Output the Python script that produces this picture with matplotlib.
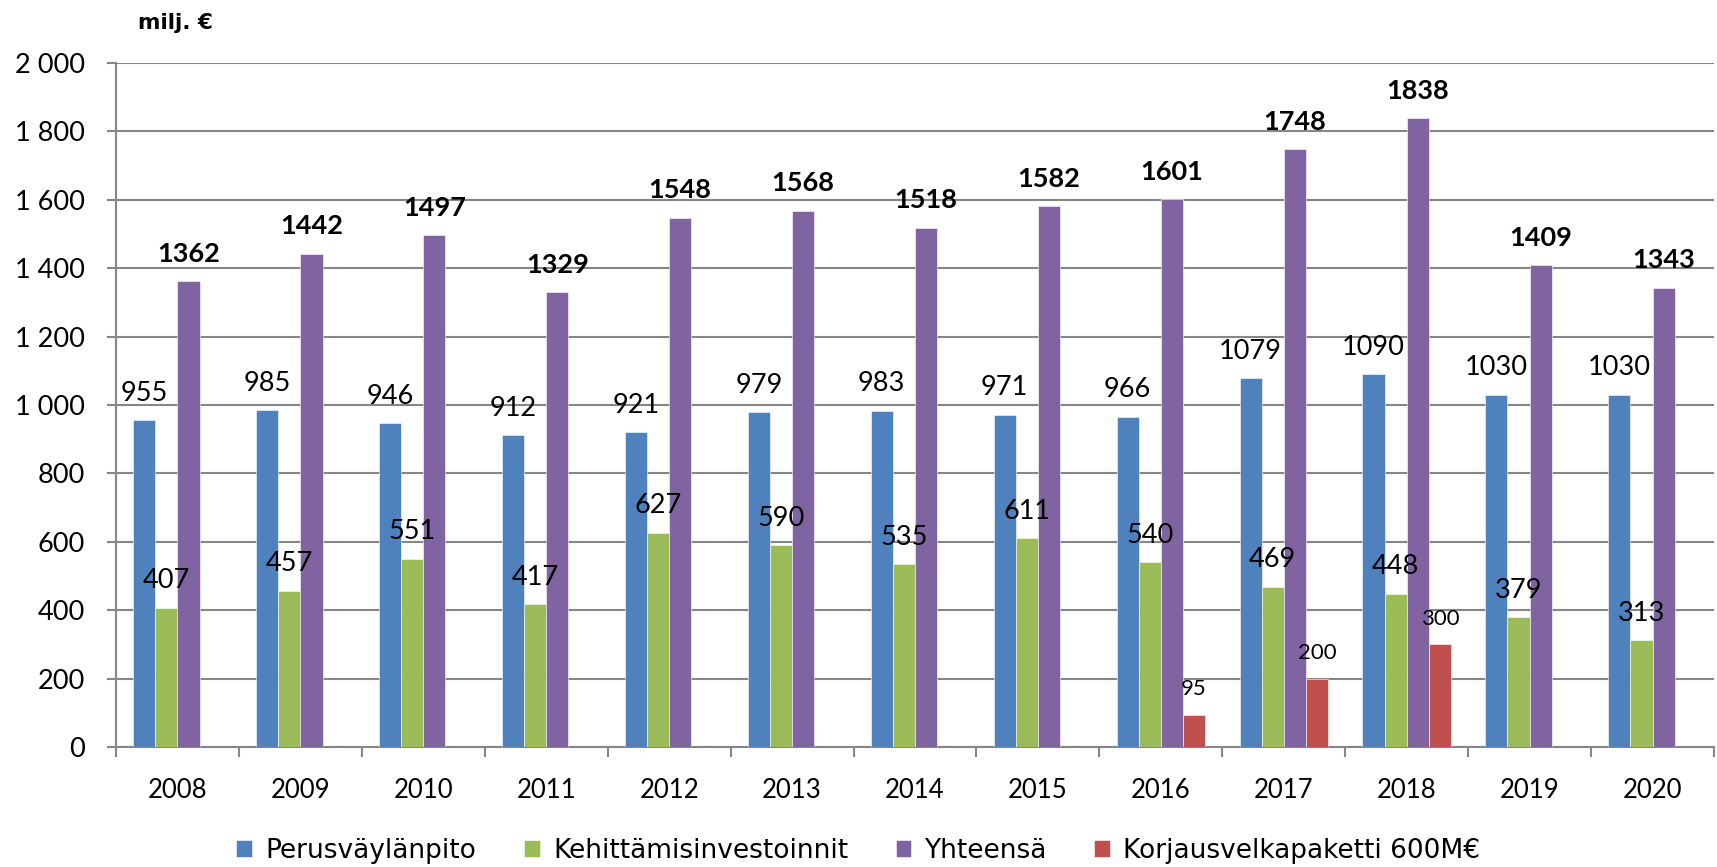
import matplotlib
matplotlib.use("Agg")
import matplotlib.pyplot as plt
import numpy as np
from matplotlib.ticker import FuncFormatter, MultipleLocator

# data
vuodet = ["2008", "2009", "2010", "2011", "2012", "2013", "2014",
          "2015", "2016", "2017", "2018", "2019", "2020"]
perus = [955, 985, 946, 912, 921, 979, 983, 971, 966, 1079, 1090, 1030, 1030]
kehitys = [407, 457, 551, 417, 627, 590, 535, 611, 540, 469, 448, 379, 313]
yhteensa = [1362, 1442, 1497, 1329, 1548, 1568, 1518, 1582, 1601, 1748, 1838, 1409, 1343]
korjaus = [None, None, None, None, None, None, None, None, 95, 200, 300, None, None]

sarjat = ["Perusväylänpito", "Kehittämisinvestoinnit", "Yhteensä",
          "Korjausvelkapaketti 600M€"]
varit = ["#4F81BD", "#9BBB59", "#8064A2", "#C0504D"]

plt.rcParams["font.family"] = ["Lato", "DejaVu Sans"]

fig = plt.figure(figsize=(17.17, 8.67), dpi=100)
ax = fig.add_axes([116 / 1717, 1 - 747 / 867, 1598 / 1717, 684 / 867])

x = np.arange(len(vuodet))
w = 0.18
arvot = [perus, kehitys, yhteensa, korjaus]
for i, (data, nimi, vari) in enumerate(zip(arvot, sarjat, varit)):
    xs = [xx for xx, v in zip(x, data) if v is not None]
    vs = [v for v in data if v is not None]
    pos = np.array(xs) + (i - 1.5) * w
    ax.bar(pos, vs, width=w, color=vari, label=nimi, zorder=3,
           edgecolor="white", linewidth=0.4)
    for px, v in zip(pos, vs):
        if i == 2:
            kw = dict(fontsize=19.5, fontweight="bold")
        elif i == 3:
            kw = dict(fontsize=16)
        else:
            kw = dict(fontsize=19.5)
        ax.annotate(str(v), (px, v), xytext=(0, 14), textcoords="offset points",
                    ha="center", va="baseline", zorder=5, **kw)

ax.set_xlim(-0.5, len(vuodet) - 0.5)
ax.set_ylim(0, 2000)
ax.yaxis.set_major_locator(MultipleLocator(200))
ax.yaxis.set_major_formatter(FuncFormatter(lambda v, p: f"{int(v):,}".replace(",", " ")))
ax.grid(axis="y", color="#868686", linewidth=1.5, zorder=0)

ax.set_xticks(x)
ax.set_xticklabels(vuodet, fontsize=18.5)
ax.set_xticks(np.arange(-0.5, len(vuodet)), minor=True)
ax.tick_params(axis="x", which="major", length=0, pad=22)
ax.tick_params(axis="x", which="minor", length=7, width=1.5, color="#868686")
ax.tick_params(axis="y", length=6.5, width=1.5, color="#868686", labelsize=19.5, pad=16)

for s in ["top", "right"]:
    ax.spines[s].set_visible(False)
for s in ["left", "bottom"]:
    ax.spines[s].set_color("#868686")
    ax.spines[s].set_linewidth(1.5)

fig.text(138 / 1717, 1 - 23 / 867, "milj. €", fontsize=15.5, fontweight="bold",
         family="DejaVu Sans", ha="left", va="center")

fig.legend(loc="center", bbox_to_anchor=(0.5, 1 - 851 / 867), ncol=4,
           frameon=False, prop={"family": "DejaVu Sans", "size": 19},
           handlelength=0.6, handleheight=0.6,
           handletextpad=0.5, columnspacing=1.8)

fig.savefig("out.png", dpi=100)
